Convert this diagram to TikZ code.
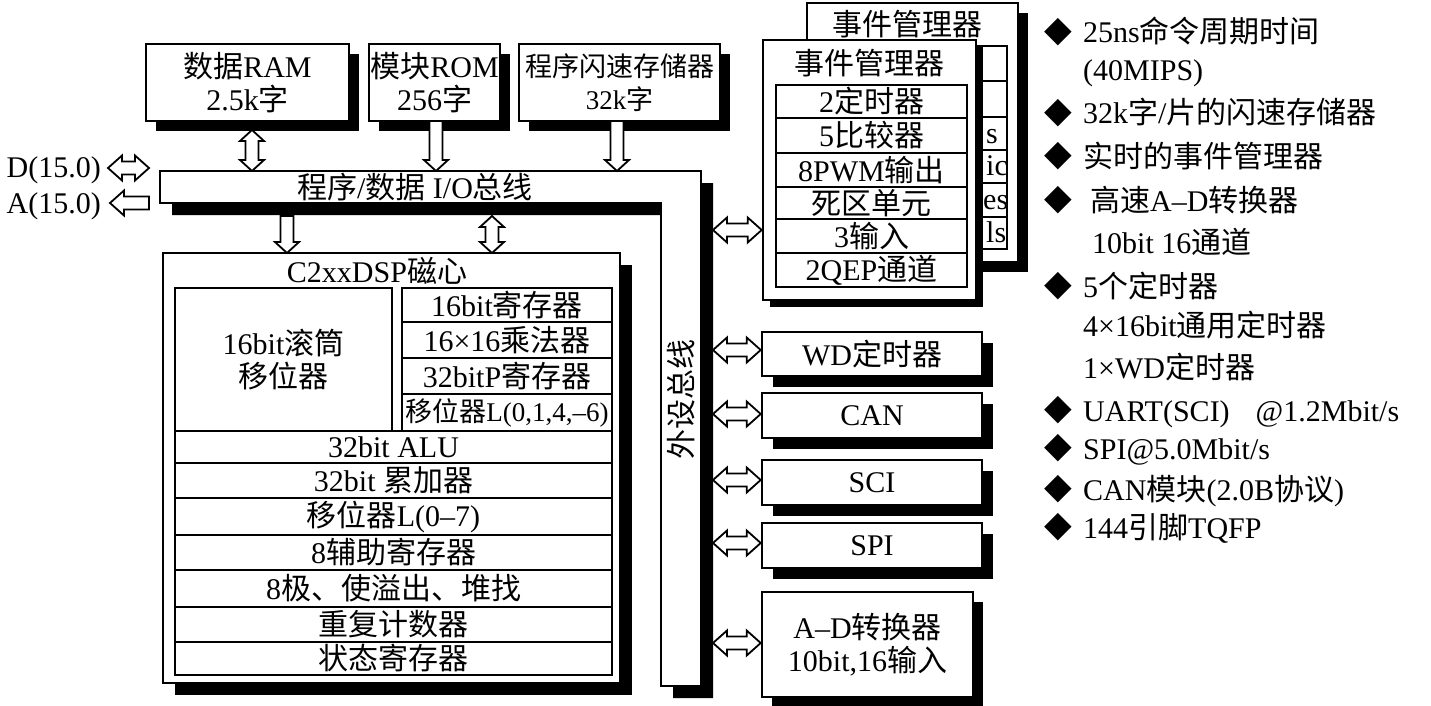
\documentclass[tikz,border=0pt]{standalone}
\usepackage{fontspec}
\setmainfont{Liberation Serif}
\newfontfamily\cjk{Noto Sans CJK SC}
\newfontfamily\lat{Liberation Serif}
\newfontfamily\sym{DejaVu Sans}
\usetikzlibrary{calc,shadows}
\XeTeXinterchartokenstate=1
\newXeTeXintercharclass\CJKcls
\makeatletter
\count@="4E00
\loop\XeTeXcharclass\count@=\CJKcls\ifnum\count@<"9FFF\advance\count@\@ne\repeat
\count@="3000
\loop\XeTeXcharclass\count@=\CJKcls\ifnum\count@<"303F\advance\count@\@ne\repeat
\count@="FF00
\loop\XeTeXcharclass\count@=\CJKcls\ifnum\count@<"FFEF\advance\count@\@ne\repeat
\makeatother
\XeTeXinterchartoks 0 \CJKcls={\cjk}
\XeTeXinterchartoks 4095 \CJKcls={\cjk}
\XeTeXinterchartoks \CJKcls 0={\lat}
\XeTeXinterchartoks \CJKcls 4095={\lat}
\newcommand\fsz[2]{\fontsize{#1}{#2}\selectfont}
\tikzset{
  shad/.style={drop shadow={shadow xshift=#1, shadow yshift=-#1, fill=black, opacity=1}},
  box/.style={draw, line width=2.6pt, fill=white, inner sep=0pt, align=center, font=\fsz{30}{33}},
  cell/.style={draw, line width=2.4pt, fill=white, inner sep=0pt, align=center, font=\fsz{30}{33}},
  arr/.style={draw, line width=1.8pt, fill=white, line join=miter},
  lbl/.style={inner sep=0pt, font=\fsz{30}{33}},
  bul/.style={inner sep=0pt, anchor=base west, font=\fsz{30}{33}},
  dia/.style={inner sep=0pt, font=\sym\fsz{36}{36}},
}
% box from corners: style, name, x1, y1, x2, y2, text
\newcommand\bx[7]{\pgfmathsetmacro\bw{#5-#3}\pgfmathsetmacro\bh{#6-#4}%
  \node[#1, minimum width=\bw pt, minimum height=\bh pt] (#2) at ({(#3+#5)/2},{(#4+#6)/2}) {#7};}
% hollow block arrows
\newcommand\vdarr[2]{\draw[arr] let \p1=(#1), \p2=(#2) in
  (\x1,\y1) -- (\x1+12pt,\y1-11pt) -- (\x1+6.5pt,\y1-11pt) -- (\x1+6.5pt,\y2+11pt) -- (\x1+12pt,\y2+11pt)
  -- (\x1,\y2) -- (\x1-12pt,\y2+11pt) -- (\x1-6.5pt,\y2+11pt) -- (\x1-6.5pt,\y1-11pt) -- (\x1-12pt,\y1-11pt) -- cycle;}
\newcommand\vdown[2]{\draw[arr] let \p1=(#1), \p2=(#2) in
  (\x1-6.5pt,\y1) -- (\x1+6.5pt,\y1) -- (\x1+6.5pt,\y2+11pt) -- (\x1+12pt,\y2+11pt)
  -- (\x1,\y2) -- (\x1-12pt,\y2+11pt) -- (\x1-6.5pt,\y2+11pt) -- cycle;}
\newcommand\hdarr[2]{\draw[arr] let \p1=(#1), \p2=(#2) in
  (\x1,\y1) -- (\x1+14pt,\y1+12.5pt) -- (\x1+14pt,\y1+6.5pt) -- (\x2-14pt,\y1+6.5pt) -- (\x2-14pt,\y1+12.5pt)
  -- (\x2,\y1) -- (\x2-14pt,\y1-12.5pt) -- (\x2-14pt,\y1-6.5pt) -- (\x1+14pt,\y1-6.5pt) -- (\x1+14pt,\y1-12.5pt) -- cycle;}
\newcommand\hlarr[2]{\draw[arr] let \p1=(#1), \p2=(#2) in
  (\x1,\y1) -- (\x1+14pt,\y1+12.5pt) -- (\x1+14pt,\y1+6.5pt) -- (\x2,\y1+6.5pt)
  -- (\x2,\y1-6.5pt) -- (\x1+14pt,\y1-6.5pt) -- (\x1+14pt,\y1-12.5pt) -- cycle;}
\begin{document}
\begin{tikzpicture}[x=1pt,y=-1pt]
\fill[white] (0,0) rectangle (1431,706);
\useasboundingbox (0,0) rectangle (1431,706);

% ---- program/data bus (L shape) ----
\coordinate (bTL) at (160,171); \coordinate (bTR) at (701,171);
\coordinate (bBR) at (701,686); \coordinate (bBL) at (661,686);
\coordinate (bIn) at (661,203); \coordinate (bL) at (160,203);
\draw[line width=2.6pt, fill=white, shad=12pt] (bTL) -- (bTR) -- (bBR) -- (bBL) -- (bIn) -- (bL) -- cycle;
\node[lbl] (busH) at (415,187) {程序/数据 I/O总线};
\node[lbl, rotate=90] (busV) at (681,399) {外设总线};

% ---- memories ----
\bx{box,shad=10pt}{ram}{146}{44}{349}{121}{数据RAM\\2.5k字}
\bx{box,shad=10pt}{rom}{369}{44}{500}{121}{模块ROM\\256字}
\bx{box,shad=10pt,font=\fsz{27}{33}}{flash}{519}{44}{720}{121}{程序闪速存储器\\32k字}

% ---- DSP core ----
\bx{box,shad=12pt}{core}{163}{253}{620}{683}{}
\node[lbl] (coreT) at (377,271) {C2xxDSP磁心};
\bx{cell}{barrel}{175}{288}{392}{431}{16bit滚筒\\移位器}
\bx{cell}{r1}{402}{288}{612}{322}{16bit寄存器}
\bx{cell}{r2}{402}{322}{612}{358}{16×16乘法器}
\bx{cell}{r3}{402}{358}{612}{394}{32bitP寄存器}
\bx{cell,font=\fsz{27}{30}}{r4}{402}{394}{612}{431}{移位器L(0,1,4,–6)}
\bx{cell}{alu}{175}{431}{612}{463}{32bit ALU}
\bx{cell}{acc}{175}{463}{612}{498}{32bit 累加器}
\bx{cell}{shf}{175}{498}{612}{535}{移位器L(0–7)}
\bx{cell}{aux}{175}{535}{612}{570}{8辅助寄存器}
\bx{cell}{stk}{175}{570}{612}{607}{8极、使溢出、堆找}
\bx{cell}{rpt}{175}{607}{612}{642}{重复计数器}
\bx{cell}{sta}{175}{642}{612}{675}{状态寄存器}

% ---- event managers ----
\bx{box,shad=10pt}{emB}{807}{3}{1018}{262}{}
\node[lbl] (emBT) at (907,24) {事件管理器};
\bx{cell}{b1}{820}{46}{1007}{81}{}
\bx{cell}{b2}{820}{81}{1007}{117}{}
\bx{cell}{b3}{820}{117}{1007}{150}{}
\bx{cell}{b4}{820}{150}{1007}{183}{}
\bx{cell}{b5}{820}{183}{1007}{217}{}
\bx{cell}{b6}{820}{217}{1007}{249}{}
\node[lbl, anchor=base west] (f1) at (986,143) {s};
\node[lbl, anchor=base west] (f2) at (986,175) {ic};
\node[lbl, anchor=base west] (f3) at (983,209) {es};
\node[lbl, anchor=base west] (f4) at (986,242) {ls};
\bx{box,shad=7pt}{emF}{763}{40}{976}{300}{}
\node[lbl] (emFT) at (869,63) {事件管理器};
\bx{cell}{e1}{776}{85}{967}{118}{2定时器}
\bx{cell}{e2}{776}{118}{967}{153}{5比较器}
\bx{cell}{e3}{776}{153}{967}{187}{8PWM输出}
\bx{cell}{e4}{776}{187}{967}{219}{死区单元}
\bx{cell}{e5}{776}{219}{967}{253}{3输入}
\bx{cell}{e6}{776}{253}{967}{287}{2QEP通道}

% ---- peripherals ----
\bx{box,shad=11pt}{wd}{762}{332}{982}{376}{WD定时器}
\bx{box,shad=11pt}{can}{762}{393}{982}{438}{CAN}
\bx{box,shad=11pt}{sci}{762}{460}{982}{505}{SCI}
\bx{box,shad=11pt}{spi}{762}{523}{982}{568}{SPI}
\bx{box,shad=10pt}{ad}{762}{592}{973}{697}{A–D转换器\\10bit,16输入}

% ---- arrows ----
\coordinate (ramA) at (252,130); \coordinate (ramB) at (252,171);
\coordinate (romA) at (436,121); \coordinate (romB) at (436,171);
\coordinate (flA) at (617,121);  \coordinate (flB) at (617,171);
\coordinate (c1A) at (287,216);  \coordinate (c1B) at (287,253);
\coordinate (c2A) at (492,216);  \coordinate (c2B) at (492,253);
\vdarr{ramA}{ramB}
\vdown{romA}{romB}
\vdown{flA}{flB}
\vdown{c1A}{c1B}
\vdarr{c2A}{c2B}
\coordinate (pEM) at (713,230);
\coordinate (pWD) at (713,350);
\coordinate (pCAN) at (713,414);
\coordinate (pSCI) at (713,480);
\coordinate (pSPI) at (713,543);
\coordinate (pAD) at (713,643);
\hdarr{pEM}{pEM -| emF.west}
\hdarr{pWD}{pWD -| wd.west}
\hdarr{pCAN}{pCAN -| can.west}
\hdarr{pSCI}{pSCI -| sci.west}
\hdarr{pSPI}{pSPI -| spi.west}
\hdarr{pAD}{pAD -| ad.west}

% ---- external buses ----
\node[lbl, anchor=base east] (Dt) at (101,177) {D(15.0)};
\node[lbl, anchor=base east] (At) at (101,213) {A(15.0)};
\coordinate (dA) at (108,168); \coordinate (dB) at (149,168);
\coordinate (aA) at (110,203); \coordinate (aB) at (149,203);
\hdarr{dA}{dB}
\hlarr{aA}{aB}

% ---- feature list ----
\node[dia] (d1) at (1058,32) {◆};
\node[dia] (d2) at (1058,113) {◆};
\node[dia] (d3) at (1058,156) {◆};
\node[dia] (d4) at (1058,200) {◆};
\node[dia] (d5) at (1058,286) {◆};
\node[dia] (d6) at (1058,410) {◆};
\node[dia] (d7) at (1058,448) {◆};
\node[dia] (d8) at (1058,489) {◆};
\node[dia] (d9) at (1058,527) {◆};
\node[bul] (t1) at (1083,43) {25ns命令周期时间};
\node[bul] (t2) at (1083,81) {(40MIPS)};
\node[bul] (t3) at (1083,124) {32k字/片的闪速存储器};
\node[bul] (t4) at (1083,167) {实时的事件管理器};
\node[bul] (t5) at (1090,211) {高速A–D转换器};
\node[bul] (t6) at (1092,253) {10bit 16通道};
\node[bul] (t7) at (1083,297) {5个定时器};
\node[bul] (t8) at (1083,336) {4×16bit通用定时器};
\node[bul] (t9) at (1083,378) {1×WD定时器};
\node[bul] (t10) at (1083,421) {UART(SCI)\hspace{26pt}@1.2Mbit/s};
\node[bul] (t11) at (1083,459) {SPI@5.0Mbit/s};
\node[bul] (t12) at (1083,500) {CAN模块(2.0B协议)};
\node[bul] (t13) at (1083,538) {144引脚TQFP};
\end{tikzpicture}
\end{document}
